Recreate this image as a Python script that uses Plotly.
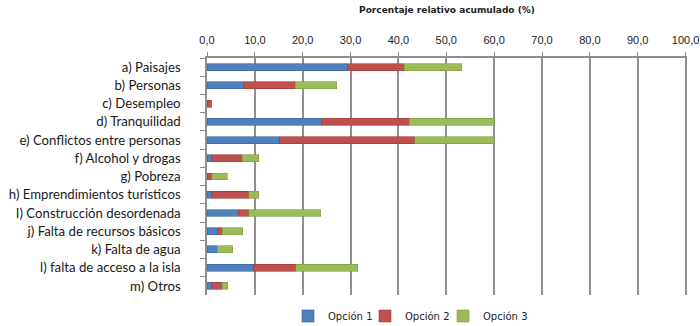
import plotly.graph_objects as go

categorias = [
    "a) Paisajes", "b) Personas", "c) Desempleo", "d) Tranquilidad",
    "e) Conflictos entre personas", "f) Alcohol y drogas", "g) Pobreza",
    "h) Emprendimientos turísticos", "I) Construcción desordenada",
    "j) Falta de recursos básicos", "k) Falta de agua",
    "l) falta de acceso a la isla", "m) Otros",
]
opcion1 = [29.3, 7.6, 0.0, 23.9, 15.2, 1.0, 0.0, 1.0, 6.5, 2.1, 2.1, 9.8, 1.0]
opcion2 = [11.9, 10.8, 1.0, 18.4, 28.2, 6.4, 1.0, 7.7, 2.2, 1.1, 0.0, 8.7, 2.2]
opcion3 = [12.0, 8.7, 0.0, 17.7, 16.6, 3.4, 3.2, 2.1, 15.1, 4.3, 3.3, 13.0, 1.1]
ticks_x = [0, 10, 20, 30, 40, 50, 60, 70, 80, 90, 100]

# name, values, fill, border, legend id, legend left edge (px)
series = [
    ("Opción 1", opcion1, "#4f81bd", "#3a669c", "legend", 288),
    ("Opción 2", opcion2, "#c0504d", "#9c3a38", "legend2", 365),
    ("Opción 3", opcion3, "#9bbb59", "#7a9a40", "legend3", 443),
]

W, H = 700, 326
grid = "#8f8f8f"
ley_font = dict(family="DejaVu Sans", size=10, color="#222")

fig = go.Figure()
leyendas = {}
for nombre, valores, color, borde, ley, izq in series:
    fig.add_trace(go.Bar(
        y=categorias, x=valores, name=nombre, orientation="h",
        marker=dict(color=color, line=dict(color=borde, width=0.6)),
        legend=ley,
    ))
    # one small legend per series so the entries sit as close as in the original
    leyendas[ley] = dict(
        orientation="h", x=izq / W, xref="container", xanchor="left",
        y=1 - 316 / H, yref="container", yanchor="middle",
        font=ley_font, itemwidth=30, bgcolor="rgba(0,0,0,0)",
    )

fig.update_layout(
    width=W, height=H,
    showlegend=True,
    barmode="stack", bargap=0.62,
    separators=",.",
    plot_bgcolor="white", paper_bgcolor="white",
    margin=dict(l=207, r=13, t=58, b=31, autoexpand=False),
    title=dict(
        text="<b>Porcentaje relativo acumulado (%)</b>",
        x=(207 + 687) / 2 / W, xanchor="center",
        y=1 - 10 / H, yanchor="middle", yref="container",
        font=dict(family="DejaVu Sans", size=9, color="#222"),
    ),
    xaxis=dict(
        side="top", range=[0, 100.3], tickmode="array", tickvals=ticks_x,
        tickformat=".1f",
        showgrid=True, gridcolor=grid, gridwidth=1.5,
        showline=True, linecolor=grid, linewidth=1.5,
        ticks="outside", ticklen=4, tickcolor=grid, ticklabelstandoff=4,
        tickfont=dict(family="Liberation Sans Narrow, Liberation Sans", size=11, color="#222"),
        zeroline=False, fixedrange=True,
    ),
    yaxis=dict(
        autorange="reversed", tickson="boundaries",
        tickmode="linear", tick0=0, dtick=1,
        showline=True, linecolor=grid, linewidth=1.5,
        ticks="outside", ticklen=5, tickcolor=grid, ticklabelstandoff=22,
        tickfont=dict(family="Lato", size=13.2, color="#1a1a1a"),
        showgrid=False, automargin=False,
    ),
    **leyendas,
)

# drop the default 8px body margin so the figure sits at the window's corner
fig.write_html("out.html", config={"displayModeBar": False},
               post_script="document.body.style.margin='0';")
